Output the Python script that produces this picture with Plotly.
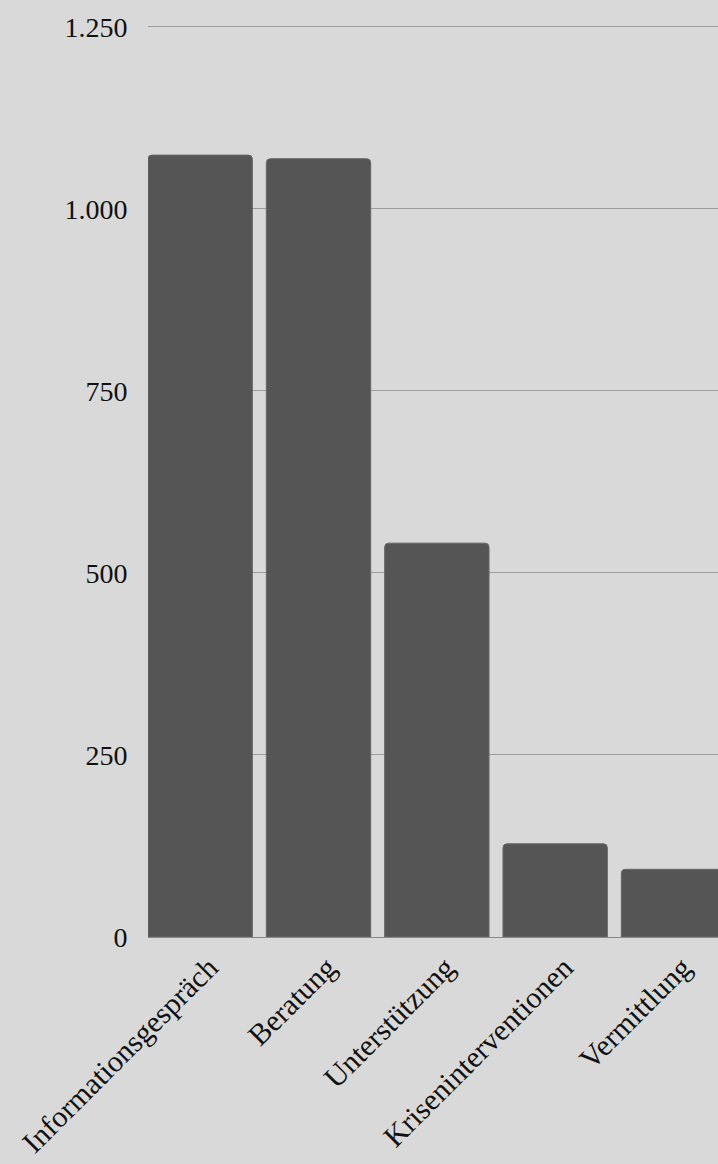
import plotly.graph_objects as go

categories = ["Informationsgespräch", "Beratung", "Unterstützung", "Kriseninterventionen", "Vermittlung"]
values = [1074, 1069, 541, 128, 93]
tick_vals = [0, 250, 500, 750, 1000, 1250]
tick_text = ["0", "250", "500", "750", "1.000", "1.250"]

FONT = "Liberation Serif"
bargap = 0.118

fig = go.Figure(go.Bar(
    x=list(range(len(categories))),
    y=values,
    marker=dict(color="#555555", line=dict(color="#666666", width=1)),
    hoverinfo="x+y",
))

fig.update_layout(
    width=718, height=1164,
    paper_bgcolor="#d9d9d9", plot_bgcolor="#d9d9d9",
    margin=dict(l=148, r=0, t=25, b=227),
    bargap=bargap,
    barcornerradius=4,
    showlegend=False,
    font=dict(family=FONT, size=28, color="#111111"),
)
fig.update_xaxes(
    automargin=False,
    tickmode="array",
    tickvals=list(range(len(categories))),
    ticktext=categories,
    tickangle=-45,
    ticklabelshift=9,
    range=[-0.5 + bargap / 2, 4.376],
    showgrid=False,
    showline=True, linecolor="#888888", linewidth=1,
    ticks="", ticklen=0,
    tickfont=dict(family=FONT, size=30, color="#111111"),
)
fig.update_yaxes(
    automargin=False,
    range=[0, 1252.7],
    tickmode="array",
    tickvals=tick_vals,
    ticktext=tick_text,
    showgrid=True, gridcolor="#9c9c9c", gridwidth=1,
    zeroline=False,
    showline=False,
    ticks="outside", ticklen=14, tickcolor="rgba(0,0,0,0)",
    tickfont=dict(family=FONT, size=28, color="#111111"),
)

fig.write_html(
    "out.html",
    config={"displayModeBar": False},
    post_script="document.body.style.margin='0';document.body.style.background='#d9d9d9';",
)
